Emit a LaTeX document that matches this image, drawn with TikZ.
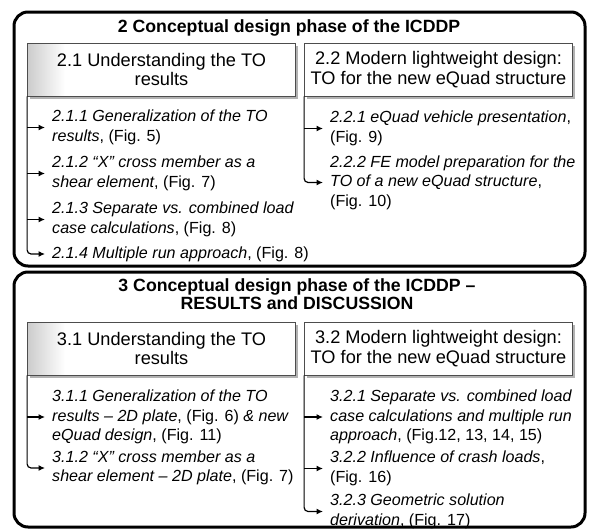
\documentclass[tikz,border=0pt]{standalone}
\usepackage{fontspec}
\setmainfont{Liberation Sans}
\usetikzlibrary{arrows.meta, shadows}
\definecolor{hdrline}{HTML}{4D4D4D}
\definecolor{bevelgray}{HTML}{CCCCCC}
\pgfdeclarehorizontalshading{bevelside}{100bp}{color(0bp)=(bevelgray); color(25bp)=(bevelgray); color(32bp)=(white); color(100bp)=(white)}

\newcommand{\entryfont}{\fontsize{16.1}{19.6}\selectfont}
\newcommand{\hdrfont}{\fontsize{18.2}{19.4}\selectfont}
\newcommand{\phasefont}{\fontsize{17.7}{18.5}\selectfont\bfseries}

\begin{document}
\begin{tikzpicture}[x=1pt, y=-1pt,
    phase/.style={line width=3pt, rounded corners=14pt},
    phasetitle/.style={font=\phasefont, align=center, inner sep=0pt},
    hdr/.style={draw=hdrline, line width=0.8pt, fill=white, minimum width=268pt,
      minimum height=53pt, align=center, inner sep=0pt, font=\hdrfont,
      drop shadow={shadow xshift=2pt, shadow yshift=-2.5pt, opacity=0.3, fill=black}},
    bevel/.style={shade, shading=bevelside},
    entry/.style={anchor=west, align=left, inner xsep=7pt, inner ysep=0pt, font=\entryfont},
    link/.style={line width=1.2pt, -{Latex[length=6.5pt,width=6pt]}}]
  \useasboundingbox (0,0) rectangle (594,530);
  \fill[white] (0,0) rectangle (594,530);

  % phase 2
  \draw[phase] (14,12) rectangle (585,266);
  \node[phasetitle] (t2) at (289,28) {2 Conceptual design phase of the ICDDP};
  \node[hdr, bevel] (h21) at (161.5,69.5) {2.1 Understanding the TO\\results};
  \node[hdr] (h22) at (438.5,69.5) {2.2 Modern lightweight design:\\TO for the new eQuad structure};

  \node[entry] (e211) at (45,127.5) {\textit{2.1.1 Generalization of the TO}\\\textit{results}, (Fig. 5)};
  \node[entry] (e212) at (45,173.5) {\textit{2.1.2 “X” cross member as a}\\\textit{shear element}, (Fig. 7)};
  \node[entry] (e213) at (45,219.5) {\textit{2.1.3 Separate vs. combined load}\\\textit{case calculations}, (Fig. 8)};
  \node[entry] (e214) at (45,254) {\textit{2.1.4 Multiple run approach}, (Fig. 8)};
  \node[entry] (e221) at (323,128.5) {\textit{2.2.1 eQuad vehicle presentation},\\(Fig. 9)};
  \node[entry] (e222) at (323,182.5) {\textit{2.2.2 FE model preparation for the}\\\textit{TO of a new eQuad structure},\\(Fig. 10)};

  \foreach \e in {e211,e212,e213}
    \draw[link] (h21.south west |- \e.west) -- (\e.west);
  \draw[link, rounded corners=4pt] (h21.south west) |- (e214.west);
  \draw[link] (h22.south west |- e221.west) -- (e221.west);
  \draw[link, rounded corners=4pt] (h22.south west) |- (e222.west);

  % phase 3
  \draw[phase] (14,272) rectangle (585,527);
  \node[phasetitle] (t3) at (297,294) {3 Conceptual design phase of the ICDDP --\\RESULTS and DISCUSSION};
  \node[hdr, bevel] (h31) at (161.5,348.5) {3.1 Understanding the TO\\results};
  \node[hdr] (h32) at (438.5,348.5) {3.2 Modern lightweight design:\\TO for the new eQuad structure};

  \node[entry] (e311) at (45,417) {\textit{3.1.1 Generalization of the TO}\\\textit{results -- 2D plate}, (Fig. 6) \textit{\& new}\\\textit{eQuad design}, (Fig. 11)};
  \node[entry] (e312) at (45,468) {\textit{3.1.2 “X” cross member as a}\\\textit{shear element -- 2D plate}, (Fig. 7)};
  \node[entry] (e321) at (323,417) {\textit{3.2.1 Separate vs. combined load}\\\textit{case calculations and multiple run}\\\textit{approach}, (Fig.12, 13, 14, 15)};
  \node[entry] (e322) at (323,468.5) {\textit{3.2.2 Influence of crash loads},\\(Fig. 16)};
  \node[entry] (e323) at (323,511.5) {\textit{3.2.3 Geometric solution}\\\textit{derivation}, (Fig. 17)};

  \draw[link] (h31.south west |- e311.west) -- (e311.west);
  \draw[link, rounded corners=4pt] (h31.south west) |- (e312.west);
  \foreach \e in {e321,e322}
    \draw[link] (h32.south west |- \e.west) -- (\e.west);
  \draw[link, rounded corners=4pt] (h32.south west) |- (e323.west);
\end{tikzpicture}
\end{document}
